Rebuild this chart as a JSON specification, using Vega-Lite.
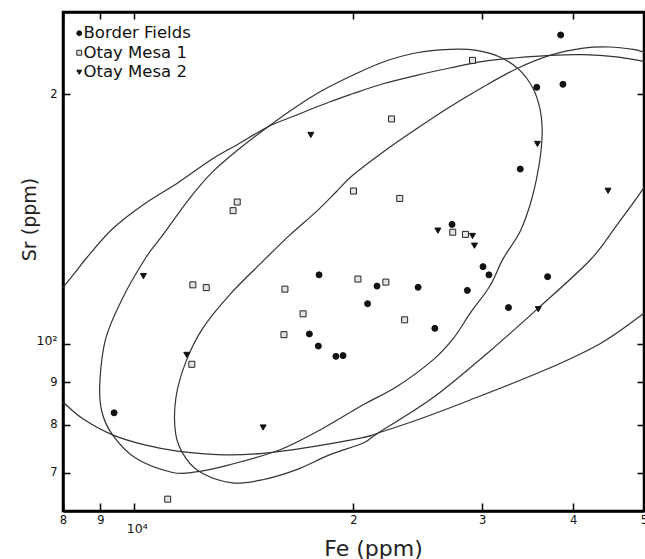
{
  "$schema": "https://vega.github.io/schema/vega-lite/v6.json",
  "width": 581,
  "height": 499,
  "autosize": {"type": "none"},
  "padding": {"left": 63, "top": 12, "right": 1, "bottom": 48},
  "background": "white",
  "config": {
    "view": {"stroke": "#000", "strokeWidth": 2.5},
    "axis": {
      "grid": false,
      "domainColor": "#000",
      "domainWidth": 2.5,
      "tickColor": "#000",
      "tickWidth": 1.5,
      "labelFont": "DejaVu Sans",
      "labelFontSize": 11.5,
      "labelColor": "#111",
      "titleFont": "DejaVu Sans",
      "titleFontWeight": "normal",
      "titleColor": "#222",
      "labelOverlap": false,
      "labelFlush": false,
      "labelBound": false
    },
    "legend": {
      "orient": "none",
      "legendX": 8,
      "legendY": 13,
      "title": null,
      "labelFont": "DejaVu Sans",
      "labelFontSize": 16.5,
      "labelColor": "#111",
      "symbolSize": 24,
      "symbolStrokeWidth": 1,
      "rowPadding": 2.5,
      "labelOffset": -4
    }
  },
  "datasets": {
    "samples": [
      {"site": "Border Fields", "Fe": 38440, "Sr": 235.6},
      {"site": "Border Fields", "Fe": 35650, "Sr": 203.8},
      {"site": "Border Fields", "Fe": 38720, "Sr": 205.5},
      {"site": "Border Fields", "Fe": 33840, "Sr": 162.5},
      {"site": "Border Fields", "Fe": 27290, "Sr": 139.4},
      {"site": "Border Fields", "Fe": 30090, "Sr": 124.0},
      {"site": "Border Fields", "Fe": 30660, "Sr": 121.2},
      {"site": "Border Fields", "Fe": 17940, "Sr": 121.2},
      {"site": "Border Fields", "Fe": 36890, "Sr": 120.6},
      {"site": "Border Fields", "Fe": 21540, "Sr": 117.5},
      {"site": "Border Fields", "Fe": 24520, "Sr": 117.1},
      {"site": "Border Fields", "Fe": 28640, "Sr": 116.1},
      {"site": "Border Fields", "Fe": 20910, "Sr": 111.9},
      {"site": "Border Fields", "Fe": 32610, "Sr": 110.7},
      {"site": "Border Fields", "Fe": 25850, "Sr": 104.5},
      {"site": "Border Fields", "Fe": 17400, "Sr": 102.9},
      {"site": "Border Fields", "Fe": 17900, "Sr": 99.5},
      {"site": "Border Fields", "Fe": 18920, "Sr": 96.7},
      {"site": "Border Fields", "Fe": 19350, "Sr": 96.9},
      {"site": "Border Fields", "Fe": 9400, "Sr": 82.7},
      {"site": "Otay Mesa 1", "Fe": 29110, "Sr": 219.6},
      {"site": "Otay Mesa 1", "Fe": 22550, "Sr": 186.7},
      {"site": "Otay Mesa 1", "Fe": 20000, "Sr": 152.9},
      {"site": "Otay Mesa 1", "Fe": 23140, "Sr": 149.8},
      {"site": "Otay Mesa 1", "Fe": 13860, "Sr": 148.3},
      {"site": "Otay Mesa 1", "Fe": 13680, "Sr": 144.8},
      {"site": "Otay Mesa 1", "Fe": 27350, "Sr": 136.4},
      {"site": "Otay Mesa 1", "Fe": 28470, "Sr": 135.6},
      {"site": "Otay Mesa 1", "Fe": 20280, "Sr": 119.8},
      {"site": "Otay Mesa 1", "Fe": 22150, "Sr": 118.8},
      {"site": "Otay Mesa 1", "Fe": 12050, "Sr": 117.9},
      {"site": "Otay Mesa 1", "Fe": 12570, "Sr": 117.0},
      {"site": "Otay Mesa 1", "Fe": 16110, "Sr": 116.5},
      {"site": "Otay Mesa 1", "Fe": 17060, "Sr": 108.8},
      {"site": "Otay Mesa 1", "Fe": 23500, "Sr": 107.0},
      {"site": "Otay Mesa 1", "Fe": 16060, "Sr": 102.7},
      {"site": "Otay Mesa 1", "Fe": 12010, "Sr": 94.6},
      {"site": "Otay Mesa 1", "Fe": 11130, "Sr": 65.1},
      {"site": "Otay Mesa 2", "Fe": 17480, "Sr": 178.6},
      {"site": "Otay Mesa 2", "Fe": 35730, "Sr": 174.2},
      {"site": "Otay Mesa 2", "Fe": 44640, "Sr": 153.0},
      {"site": "Otay Mesa 2", "Fe": 26100, "Sr": 137.0},
      {"site": "Otay Mesa 2", "Fe": 29110, "Sr": 135.0},
      {"site": "Otay Mesa 2", "Fe": 29290, "Sr": 131.4},
      {"site": "Otay Mesa 2", "Fe": 10310, "Sr": 120.8},
      {"site": "Otay Mesa 2", "Fe": 35820, "Sr": 110.2},
      {"site": "Otay Mesa 2", "Fe": 11820, "Sr": 97.1},
      {"site": "Otay Mesa 2", "Fe": 15040, "Sr": 79.4}
    ],
    "ellipse_closed": [
      {"i": 1, "Fe": 27090, "Sr": 226.4},
      {"i": 2, "Fe": 29480, "Sr": 225.8},
      {"i": 3, "Fe": 31730, "Sr": 221.7},
      {"i": 4, "Fe": 33800, "Sr": 213.6},
      {"i": 5, "Fe": 35250, "Sr": 203.0},
      {"i": 6, "Fe": 36010, "Sr": 192.1},
      {"i": 7, "Fe": 36270, "Sr": 181.7},
      {"i": 8, "Fe": 36120, "Sr": 170.4},
      {"i": 9, "Fe": 35630, "Sr": 158.2},
      {"i": 10, "Fe": 34890, "Sr": 147.0},
      {"i": 11, "Fe": 33800, "Sr": 136.5},
      {"i": 12, "Fe": 32040, "Sr": 126.6},
      {"i": 13, "Fe": 30750, "Sr": 117.5},
      {"i": 14, "Fe": 28900, "Sr": 109.0},
      {"i": 15, "Fe": 27440, "Sr": 101.8},
      {"i": 16, "Fe": 25680, "Sr": 95.7},
      {"i": 17, "Fe": 23000, "Sr": 89.1},
      {"i": 18, "Fe": 20590, "Sr": 84.5},
      {"i": 19, "Fe": 18150, "Sr": 79.2},
      {"i": 20, "Fe": 15830, "Sr": 74.6},
      {"i": 21, "Fe": 13520, "Sr": 71.6},
      {"i": 22, "Fe": 12170, "Sr": 70.2},
      {"i": 23, "Fe": 11300, "Sr": 70.1},
      {"i": 24, "Fe": 10070, "Sr": 72.9},
      {"i": 25, "Fe": 9353, "Sr": 77.8},
      {"i": 26, "Fe": 9042, "Sr": 83.0},
      {"i": 27, "Fe": 8986, "Sr": 90.1},
      {"i": 28, "Fe": 9157, "Sr": 101.7},
      {"i": 29, "Fe": 9653, "Sr": 113.6},
      {"i": 30, "Fe": 10380, "Sr": 127.0},
      {"i": 31, "Fe": 10950, "Sr": 135.2},
      {"i": 32, "Fe": 11920, "Sr": 149.7},
      {"i": 33, "Fe": 12820, "Sr": 161.2},
      {"i": 34, "Fe": 13950, "Sr": 171.9},
      {"i": 35, "Fe": 15260, "Sr": 182.6},
      {"i": 36, "Fe": 16680, "Sr": 193.0},
      {"i": 37, "Fe": 18150, "Sr": 202.1},
      {"i": 38, "Fe": 19950, "Sr": 210.7},
      {"i": 39, "Fe": 21960, "Sr": 218.6},
      {"i": 40, "Fe": 24400, "Sr": 224.3}
    ],
    "ellipse_open": [
      {"arc": "Border Fields", "i": 0, "Fe": 53420, "Sr": 221.7},
      {"arc": "Border Fields", "i": 1, "Fe": 49890, "Sr": 224.8},
      {"arc": "Border Fields", "i": 2, "Fe": 48340, "Sr": 226.4},
      {"arc": "Border Fields", "i": 3, "Fe": 44910, "Sr": 227.9},
      {"arc": "Border Fields", "i": 4, "Fe": 41280, "Sr": 227.2},
      {"arc": "Border Fields", "i": 5, "Fe": 37160, "Sr": 222.7},
      {"arc": "Border Fields", "i": 6, "Fe": 33450, "Sr": 214.6},
      {"arc": "Border Fields", "i": 7, "Fe": 30100, "Sr": 204.0},
      {"arc": "Border Fields", "i": 8, "Fe": 27090, "Sr": 193.0},
      {"arc": "Border Fields", "i": 9, "Fe": 24400, "Sr": 181.7},
      {"arc": "Border Fields", "i": 10, "Fe": 21960, "Sr": 170.4},
      {"arc": "Border Fields", "i": 11, "Fe": 19950, "Sr": 159.7},
      {"arc": "Border Fields", "i": 12, "Fe": 18930, "Sr": 152.5},
      {"arc": "Border Fields", "i": 13, "Fe": 17770, "Sr": 144.3},
      {"arc": "Border Fields", "i": 14, "Fe": 16340, "Sr": 135.2},
      {"arc": "Border Fields", "i": 15, "Fe": 15020, "Sr": 125.8},
      {"arc": "Border Fields", "i": 16, "Fe": 13520, "Sr": 114.6},
      {"arc": "Border Fields", "i": 17, "Fe": 12430, "Sr": 104.5},
      {"arc": "Border Fields", "i": 18, "Fe": 11790, "Sr": 95.3},
      {"arc": "Border Fields", "i": 19, "Fe": 11420, "Sr": 86.1},
      {"arc": "Border Fields", "i": 20, "Fe": 11420, "Sr": 77.8},
      {"arc": "Border Fields", "i": 21, "Fe": 11790, "Sr": 72.9},
      {"arc": "Border Fields", "i": 22, "Fe": 12430, "Sr": 69.9},
      {"arc": "Border Fields", "i": 23, "Fe": 13660, "Sr": 68.1},
      {"arc": "Border Fields", "i": 24, "Fe": 15020, "Sr": 68.7},
      {"arc": "Border Fields", "i": 25, "Fe": 16680, "Sr": 70.6},
      {"arc": "Border Fields", "i": 26, "Fe": 18540, "Sr": 73.6},
      {"arc": "Border Fields", "i": 27, "Fe": 20590, "Sr": 76.0},
      {"arc": "Border Fields", "i": 28, "Fe": 21520, "Sr": 78.0},
      {"arc": "Border Fields", "i": 29, "Fe": 25680, "Sr": 86.2},
      {"arc": "Border Fields", "i": 30, "Fe": 30650, "Sr": 97.9},
      {"arc": "Border Fields", "i": 31, "Fe": 35730, "Sr": 110.3},
      {"arc": "Border Fields", "i": 32, "Fe": 42160, "Sr": 126.2},
      {"arc": "Border Fields", "i": 33, "Fe": 45870, "Sr": 139.0},
      {"arc": "Border Fields", "i": 34, "Fe": 49890, "Sr": 153.9},
      {"arc": "Border Fields", "i": 35, "Fe": 53420, "Sr": 168.9},
      {"arc": "Otay Mesa 2 upper", "i": 0, "Fe": 7546, "Sr": 110.0},
      {"arc": "Otay Mesa 2 upper", "i": 1, "Fe": 7987, "Sr": 116.8},
      {"arc": "Otay Mesa 2 upper", "i": 2, "Fe": 8330, "Sr": 122.3},
      {"arc": "Otay Mesa 2 upper", "i": 3, "Fe": 8616, "Sr": 127.0},
      {"arc": "Otay Mesa 2 upper", "i": 4, "Fe": 9353, "Sr": 137.7},
      {"arc": "Otay Mesa 2 upper", "i": 5, "Fe": 10280, "Sr": 147.0},
      {"arc": "Otay Mesa 2 upper", "i": 6, "Fe": 11540, "Sr": 156.8},
      {"arc": "Otay Mesa 2 upper", "i": 7, "Fe": 12820, "Sr": 167.2},
      {"arc": "Otay Mesa 2 upper", "i": 8, "Fe": 13800, "Sr": 173.5},
      {"arc": "Otay Mesa 2 upper", "i": 9, "Fe": 15260, "Sr": 182.6},
      {"arc": "Otay Mesa 2 upper", "i": 10, "Fe": 16680, "Sr": 188.6},
      {"arc": "Otay Mesa 2 upper", "i": 11, "Fe": 18540, "Sr": 195.7},
      {"arc": "Otay Mesa 2 upper", "i": 12, "Fe": 19950, "Sr": 200.2},
      {"arc": "Otay Mesa 2 upper", "i": 13, "Fe": 21960, "Sr": 205.8},
      {"arc": "Otay Mesa 2 upper", "i": 14, "Fe": 24400, "Sr": 210.7},
      {"arc": "Otay Mesa 2 upper", "i": 15, "Fe": 27090, "Sr": 215.0},
      {"arc": "Otay Mesa 2 upper", "i": 16, "Fe": 30100, "Sr": 219.0},
      {"arc": "Otay Mesa 2 upper", "i": 17, "Fe": 33450, "Sr": 221.2},
      {"arc": "Otay Mesa 2 upper", "i": 18, "Fe": 37160, "Sr": 222.7},
      {"arc": "Otay Mesa 2 upper", "i": 19, "Fe": 41280, "Sr": 223.1},
      {"arc": "Otay Mesa 2 upper", "i": 20, "Fe": 45870, "Sr": 221.7},
      {"arc": "Otay Mesa 2 upper", "i": 21, "Fe": 49890, "Sr": 219.0},
      {"arc": "Otay Mesa 2 upper", "i": 22, "Fe": 53420, "Sr": 216.8},
      {"arc": "Otay Mesa 2 lower", "i": 0, "Fe": 7546, "Sr": 89.1},
      {"arc": "Otay Mesa 2 lower", "i": 1, "Fe": 7987, "Sr": 85.3},
      {"arc": "Otay Mesa 2 lower", "i": 2, "Fe": 8508, "Sr": 81.4},
      {"arc": "Otay Mesa 2 lower", "i": 3, "Fe": 9353, "Sr": 77.8},
      {"arc": "Otay Mesa 2 lower", "i": 4, "Fe": 10390, "Sr": 75.6},
      {"arc": "Otay Mesa 2 lower", "i": 5, "Fe": 11540, "Sr": 74.3},
      {"arc": "Otay Mesa 2 lower", "i": 6, "Fe": 13240, "Sr": 73.6},
      {"arc": "Otay Mesa 2 lower", "i": 7, "Fe": 15020, "Sr": 73.9},
      {"arc": "Otay Mesa 2 lower", "i": 8, "Fe": 17590, "Sr": 75.3},
      {"arc": "Otay Mesa 2 lower", "i": 9, "Fe": 20590, "Sr": 77.2},
      {"arc": "Otay Mesa 2 lower", "i": 10, "Fe": 21520, "Sr": 78.1},
      {"arc": "Otay Mesa 2 lower", "i": 11, "Fe": 24650, "Sr": 81.3},
      {"arc": "Otay Mesa 2 lower", "i": 12, "Fe": 28900, "Sr": 85.7},
      {"arc": "Otay Mesa 2 lower", "i": 13, "Fe": 36580, "Sr": 93.1},
      {"arc": "Otay Mesa 2 lower", "i": 14, "Fe": 43650, "Sr": 100.3},
      {"arc": "Otay Mesa 2 lower", "i": 15, "Fe": 50000, "Sr": 109.0},
      {"arc": "Otay Mesa 2 lower", "i": 16, "Fe": 53420, "Sr": 114.3}
    ]
  },
  "layer": [
    {
      "data": {"name": "ellipse_closed"},
      "mark": {"type": "line", "interpolate": "cardinal-closed", "stroke": "#333333", "strokeWidth": 1.2, "clip": true},
      "encoding": {
        "x": {
          "field": "Fe", "type": "quantitative",
          "scale": {"type": "log", "domain": [8000, 50000], "nice": false},
          "axis": {"orient": "top", "values": [8000, 9000, 10000, 20000, 30000, 40000, 50000], "labels": false, "title": null, "tickSize": -7}
        },
        "y": {
          "field": "Sr", "type": "quantitative",
          "scale": {"type": "log", "domain": [63, 251.1], "nice": false},
          "axis": {"orient": "right", "values": [70, 80, 90, 100, 200], "labels": false, "title": null, "tickSize": -7}
        },
        "order": {"field": "i", "type": "quantitative"}
      }
    },
    {
      "data": {"name": "ellipse_open"},
      "mark": {"type": "line", "interpolate": "cardinal", "stroke": "#333333", "strokeWidth": 1.2, "clip": true},
      "encoding": {
        "x": {"field": "Fe", "type": "quantitative", "axis": null},
        "y": {"field": "Sr", "type": "quantitative", "axis": null},
        "detail": {"field": "arc"},
        "order": {"field": "i", "type": "quantitative"}
      }
    },
    {
      "data": {"name": "samples"},
      "mark": {"type": "point", "filled": true, "size": 36, "strokeWidth": 1, "opacity": 1},
      "encoding": {
        "x": {
          "field": "Fe", "type": "quantitative",
          "axis": {
            "orient": "bottom",
            "values": [8000, 9000, 10000, 20000, 30000, 40000, 50000],
            "tickSize": -8,
            "labelPadding": {"condition": {"test": "datum.value == 10000", "value": 19}, "value": 11},
            "labelOffset": {"condition": {"test": "datum.value == 10000", "value": 3}, "value": 0},
            "labelFontSize": {"condition": {"test": "datum.value == 10000", "value": 12.5}, "value": 11.5},
            "labelExpr": "datum.value == 10000 ? '10\u2074' : format(datum.value < 10000 ? datum.value / 1000 : datum.value / 10000, 'd')",
            "title": "Fe (ppm)",
            "titleFontSize": 22,
            "titleX": 310,
            "titleY": 37,
            "titleAlign": "center",
            "titleBaseline": "middle"
          }
        },
        "y": {
          "field": "Sr", "type": "quantitative",
          "axis": {
            "orient": "left",
            "values": [70, 80, 90, 100, 200],
            "tickSize": -7,
            "labelPadding": 13,
            "labelOffset": {"condition": {"test": "datum.value == 100", "value": -4}, "value": 0},
            "labelFontSize": {"condition": {"test": "datum.value == 100", "value": 12.5}, "value": 11.5},
            "labelExpr": "datum.value == 100 ? '10\u00b2' : format(datum.value >= 100 ? datum.value / 100 : datum.value / 10, 'd')",
            "title": "Sr (ppm)",
            "titleFontSize": 19,
            "titleAngle": 270,
            "titleX": -34,
            "titleY": 207,
            "titleAlign": "center",
            "titleBaseline": "middle"
          }
        },
        "shape": {
          "field": "site", "type": "nominal",
          "scale": {"domain": ["Border Fields", "Otay Mesa 1", "Otay Mesa 2"], "range": ["circle", "square", "triangle-down"]},
          "legend": {"title": null}
        },
        "fill": {
          "field": "site", "type": "nominal",
          "scale": {"domain": ["Border Fields", "Otay Mesa 1", "Otay Mesa 2"], "range": ["#111111", "#e4e4e4", "#111111"]},
          "legend": {"title": null}
        },
        "stroke": {
          "field": "site", "type": "nominal",
          "scale": {"domain": ["Border Fields", "Otay Mesa 1", "Otay Mesa 2"], "range": ["#111111", "#222222", "#111111"]},
          "legend": {"title": null}
        }
      }
    }
  ],
  "resolve": {"axis": {"x": "independent", "y": "independent"}}
}
